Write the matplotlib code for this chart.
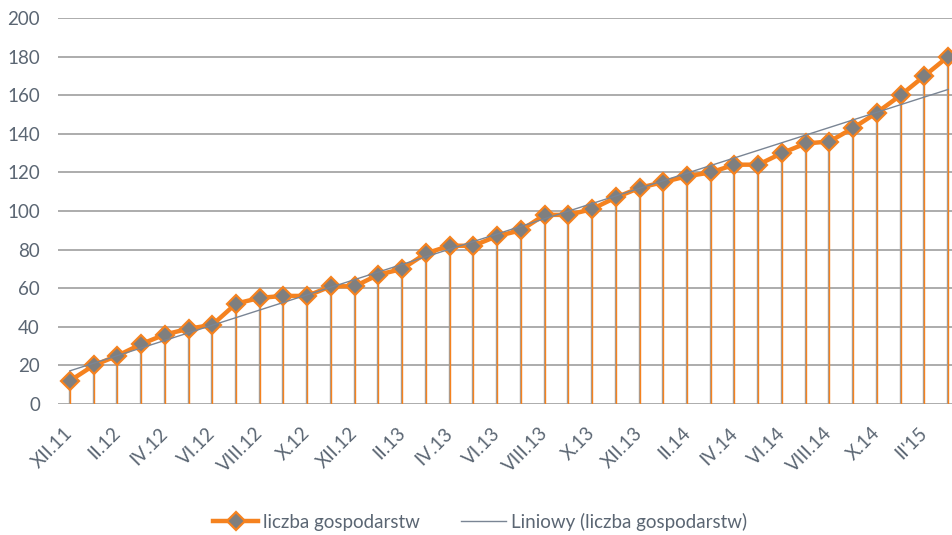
import numpy as np
import matplotlib
matplotlib.use('Agg')
import matplotlib.pyplot as plt
from matplotlib.transforms import ScaledTranslation

plt.rcParams['font.family'] = ['Lato', 'DejaVu Sans']

# liczba gospodarstw, monthly points from XII.11
values = [12, 20, 25, 31, 36, 39, 41, 52, 55, 56, 56, 61, 61, 67, 70, 78, 82, 82,
          87, 90, 98, 98, 101, 107, 112, 115, 118, 120, 124, 124, 130, 135, 136,
          143, 151, 160, 170, 180]
tick_labels = ['XII.11', 'II.12', 'IV.12', 'VI.12', 'VIII.12', 'X.12', 'XII.12',
               'II.13', 'IV.13', 'VI.13', 'VIII.13', 'X.13', 'XII.13', 'II.14',
               'IV.14', 'VI.14', 'VIII.14', 'X.14', "II'15"]
yticks = [0, 20, 40, 60, 80, 100, 120, 140, 160, 180, 200]

orange = '#f5821f'
gray_txt = '#5b6673'
grid_c = '#a6a6a6'

x = np.arange(len(values))
vals = np.array(values, dtype=float)

# linear trend (Excel "Liniowy")
a, b = np.polyfit(x, vals, 1)
trend = a * x + b

fig = plt.figure(figsize=(9.53, 5.35), dpi=100)
ax = fig.add_axes([58/953, 1-404/535, (960-58)/953, (404-18)/535])

for yt in yticks:
    ax.axhline(yt, color=grid_c, lw=1.3, zorder=0)

# drop lines: gray + orange side by side
off = ScaledTranslation(-1/100, 0, fig.dpi_scale_trans)
ax.vlines(x, 0, vals, color='#a0a0a0', lw=1.0, zorder=1,
          transform=ax.transData + off)
ax.vlines(x, 0, vals, color=orange, lw=1.0, zorder=1)

ax.plot(x, vals, color=orange, lw=3.2, marker='D', markersize=9.5,
        markerfacecolor='#7f7f7f', markeredgecolor=orange, markeredgewidth=1.6,
        zorder=3, label='liczba gospodarstw')
ax.plot(x, trend, color='#7a8594', lw=1.0, zorder=4,
        label='Liniowy (liczba gospodarstw)')

ax.set_xlim(-0.5, len(values) - 0.5)
ax.set_ylim(0, 200)
ax.set_yticks(yticks)
ax.set_xticks(x[::2])
ax.set_xticklabels(tick_labels, rotation=45, ha='right', va='center',
                   rotation_mode='anchor')
ax.tick_params(axis='x', length=0, pad=19, labelsize=13.5, labelcolor=gray_txt)
ax.tick_params(axis='y', length=0, pad=13, labelsize=13.5, labelcolor=gray_txt)
for s in ax.spines.values():
    s.set_visible(False)

fig.legend(loc='center', bbox_to_anchor=(480/953, 1-522/535), ncol=2,
           frameon=False, fontsize=13.5, labelcolor=gray_txt, handlelength=2.4,
           columnspacing=2.2, handletextpad=0.25)

fig.savefig('out.png', dpi=100)
